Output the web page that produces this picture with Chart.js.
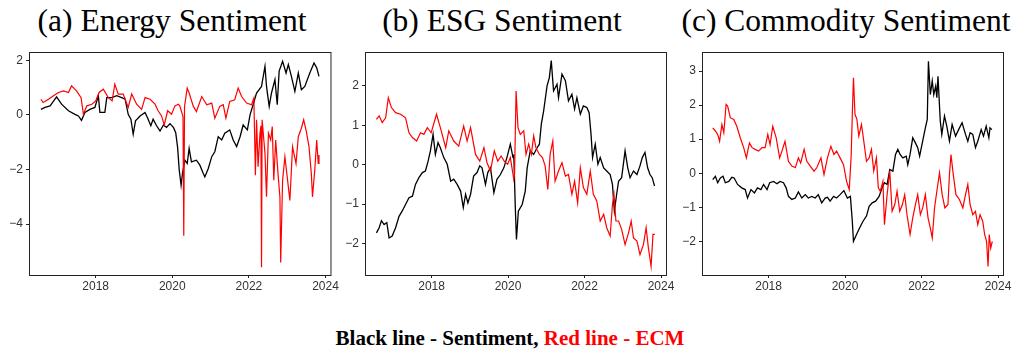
<!DOCTYPE html>
<html>
<head>
<meta charset="utf-8">
<script src="https://cdn.jsdelivr.net/npm/chart.js@4.4.1/dist/chart.umd.min.js"></script>
<style>
  body { margin: 0; background: #fff; }
  #wrap { position: relative; width: 1016px; height: 354px; overflow: hidden; }
  canvas { position: absolute; top: 40px; }
  .title { position: absolute; top: 3px; width: 420px; font-family: "Liberation Serif", "Times New Roman", serif; font-size: 31.5px; color: #000; white-space: nowrap; text-align: center; }
  #legend { position: absolute; left: 0; width: 1020px; top: 326px; text-align: center; font-family: "Liberation Serif", "Times New Roman", serif; font-weight: bold; font-size: 21px; }
</style>
</head>
<body>
<div id="wrap">
  <div class="title" style="left:-38px">(a) Energy Sentiment</div>
  <div class="title" style="left:292px">(b) ESG Sentiment</div>
  <div class="title" style="left:636px">(c) Commodity Sentiment</div>
  <canvas id="c1" width="340" height="260" style="left:0px"></canvas>
  <canvas id="c2" width="340" height="260" style="left:340px"></canvas>
  <canvas id="c3" width="336" height="260" style="left:680px"></canvas>
  <div id="legend">Black line - Sentiment, <span style="color:#ff0000">Red line - ECM</span></div>
</div>
<script>
const yearTicks = [2018, 2020, 2022, 2024];
const X_MIN = 2016.26, X_MAX = 2024.13;

// (a) Energy
const energySentX = [2016.57,2016.68,2016.81,2016.9,2016.98,2017.11,2017.29,2017.46,2017.55,2017.63,2017.72,2017.85,2017.98,2018.07,2018.11,2018.24,2018.29,2018.42,2018.55,2018.68,2018.77,2018.85,2018.92,2018.98,2019.04,2019.16,2019.29,2019.37,2019.44,2019.5,2019.59,2019.68,2019.77,2019.85,2019.94,2020.03,2020.09,2020.14,2020.18,2020.23,2020.27,2020.33,2020.39,2020.44,2020.5,2020.63,2020.72,2020.81,2020.85,2020.94,2021.03,2021.11,2021.2,2021.29,2021.37,2021.5,2021.59,2021.68,2021.77,2021.85,2021.96,2022.03,2022.11,2022.2,2022.33,2022.42,2022.46,2022.53,2022.59,2022.68,2022.74,2022.79,2022.88,2022.97,2023.03,2023.11,2023.2,2023.29,2023.37,2023.46,2023.59,2023.7,2023.77,2023.83];
const energySentY = [0.2,0.27,0.33,0.5,0.66,0.39,0.15,0.02,-0.04,-0.2,0.09,0.2,0.27,0.7,0.09,0.09,0.63,0.63,0.7,0.63,0.57,0.02,-0.16,-0.71,-0.22,-0.04,0.09,-0.16,-0.4,-0.16,-0.4,-0.59,-0.37,-0.46,-0.32,-0.46,-0.65,-1.2,-2.0,-2.58,-2.1,-1.66,-1.78,-1.23,-1.72,-1.66,-1.84,-2.15,-2.27,-1.96,-1.53,-1.35,-0.8,-0.92,-0.67,-0.55,-0.92,-1.16,-0.8,-0.37,-0.55,0,0.37,0.8,1.04,1.78,1.04,0.31,0.8,1.29,0.37,1.6,1.96,1.53,1.84,1.41,0.86,1.53,0.92,1.04,1.53,1.9,1.72,1.41];
const energyEcmX = [2016.57,2016.63,2016.77,2016.9,2017.03,2017.16,2017.29,2017.37,2017.5,2017.62,2017.68,2017.77,2017.9,2018.0,2018.09,2018.2,2018.33,2018.43,2018.5,2018.59,2018.72,2018.85,2018.94,2019.07,2019.2,2019.29,2019.42,2019.55,2019.63,2019.72,2019.79,2019.88,2019.98,2020.07,2020.16,2020.2,2020.28,2020.3,2020.32,2020.39,2020.44,2020.55,2020.63,2020.77,2020.9,2021.03,2021.11,2021.24,2021.33,2021.4,2021.5,2021.63,2021.72,2021.81,2021.94,2022.07,2022.13,2022.17,2022.2,2022.24,2022.29,2022.315,2022.33,2022.345,2022.42,2022.46,2022.51,2022.57,2022.61,2022.65,2022.7,2022.76,2022.81,2022.83,2022.88,2022.94,2023.0,2023.07,2023.14,2023.23,2023.29,2023.37,2023.43,2023.5,2023.57,2023.63,2023.66,2023.72,2023.77,2023.81,2023.83];
const energyEcmY = [0.57,0.45,0.57,0.7,0.82,0.88,0.82,1.06,0.88,0.63,0.02,0.33,0.39,0.51,0.82,0.94,0.63,0.51,1.12,0.76,0.76,0.27,0.76,0.39,0.2,0.63,0.57,0.39,0.15,-0.04,-0.37,0.15,0.02,0.33,0.39,0.31,-0.06,-4.42,0.31,0.98,0.8,0.31,0.12,0.67,0.37,0.43,-0.12,0.31,0.37,-0.12,0.49,0.55,0.98,0.67,0.43,0.37,0.61,-2.21,-0.18,-1.9,-0.67,-0.4,-5.58,-0.18,-1.41,-3.0,-0.67,-0.92,-0.43,-2.39,-0.92,-2.15,-3.0,-5.4,-2.39,-1.53,-2.27,-3.13,-1.17,-1.78,-0.8,-0.49,-0.18,-0.61,-1.17,-2.15,-3.0,-2.02,-0.92,-1.78,-1.47];

// (b) ESG
const esgSentX = [2016.56,2016.63,2016.69,2016.76,2016.83,2016.89,2016.97,2017.06,2017.15,2017.23,2017.32,2017.41,2017.5,2017.58,2017.67,2017.76,2017.84,2017.91,2017.97,2018.04,2018.1,2018.17,2018.23,2018.32,2018.41,2018.5,2018.58,2018.67,2018.76,2018.83,2018.89,2018.95,2019.02,2019.1,2019.19,2019.26,2019.32,2019.41,2019.47,2019.54,2019.63,2019.71,2019.8,2019.89,2019.97,2020.06,2020.13,2020.15,2020.19,2020.22,2020.27,2020.37,2020.45,2020.5,2020.58,2020.67,2020.76,2020.82,2020.87,2020.93,2021.02,2021.08,2021.13,2021.19,2021.28,2021.32,2021.41,2021.5,2021.58,2021.67,2021.74,2021.8,2021.89,2021.97,2022.06,2022.12,2022.17,2022.21,2022.28,2022.35,2022.41,2022.5,2022.58,2022.67,2022.73,2022.78,2022.84,2022.89,2022.97,2023.06,2023.13,2023.19,2023.28,2023.37,2023.45,2023.51,2023.58,2023.65,2023.71,2023.77,2023.83];
const esgSentY = [-1.73,-1.6,-1.42,-1.52,-1.47,-1.86,-1.81,-1.6,-1.31,-1.18,-1.01,-0.84,-0.8,-0.5,-0.33,-0.2,-0.16,0.09,0.35,0.77,0.26,0.56,0.43,0.18,0.01,-0.42,-0.37,-0.5,-0.67,-1.09,-0.75,-0.97,-0.75,-0.29,-0.2,-0.03,-0.08,-0.5,-0.2,-0.08,-0.71,-0.37,-0.25,-0.08,0.18,0.52,0.18,0.26,-1.09,-1.9,-1.18,-1.01,-0.67,-0.08,0.35,0.26,0.43,0.52,1.03,1.36,2.0,2.21,2.64,1.87,2.04,1.7,2.3,2.13,1.62,1.79,1.41,1.7,1.28,1.49,1.45,1.32,0.77,0.18,0.52,0.01,0.18,-0.08,-0.16,-0.25,-0.5,-1.18,-0.75,-0.42,-0.33,0.35,-0.08,-0.33,-0.16,-0.25,-0.03,0.18,0.31,-0.08,-0.25,-0.33,-0.54];
const esgEcmX = [2016.56,2016.63,2016.71,2016.8,2016.87,2016.95,2017.06,2017.19,2017.32,2017.41,2017.5,2017.61,2017.71,2017.8,2017.89,2017.99,2018.13,2018.23,2018.37,2018.45,2018.58,2018.71,2018.84,2018.93,2019.02,2019.15,2019.26,2019.37,2019.45,2019.54,2019.64,2019.73,2019.82,2019.9,2019.99,2020.06,2020.15,2020.17,2020.21,2020.26,2020.32,2020.41,2020.47,2020.54,2020.61,2020.67,2020.73,2020.82,2020.9,2020.97,2021.04,2021.1,2021.17,2021.23,2021.32,2021.41,2021.5,2021.58,2021.67,2021.74,2021.82,2021.89,2021.97,2022.06,2022.15,2022.23,2022.32,2022.41,2022.5,2022.58,2022.67,2022.73,2022.77,2022.82,2022.89,2022.97,2023.06,2023.15,2023.22,2023.28,2023.37,2023.45,2023.54,2023.61,2023.67,2023.74,2023.79,2023.84];
const esgEcmY = [1.15,1.24,1.07,1.19,1.7,1.45,1.32,1.28,1.19,0.81,0.69,0.6,0.81,0.77,0.94,0.81,1.28,0.94,0.43,0.86,0.6,0.47,0.98,0.6,0.94,0.26,0.09,0.43,0.05,-0.16,0.35,0.09,0.22,0.09,0.01,0.18,-0.37,-0.25,1.87,0.94,0.77,0.86,0.26,0.52,0.26,0.73,0.43,0.26,0.18,-0.03,-0.63,0.26,0.6,-0.42,-0.16,0.05,-0.29,-0.25,-0.75,-0.42,-0.97,-0.08,-0.58,-0.75,-0.16,-0.75,-0.92,-1.43,-1.26,-1.6,-1.81,-1.01,-0.75,-1.43,-1.43,-1.64,-2.03,-1.73,-1.43,-1.86,-1.94,-2.28,-2.03,-1.6,-2.11,-2.58,-1.77,-1.77];

// (c) Commodity
const commSentX = [2016.54,2016.61,2016.67,2016.74,2016.81,2016.87,2016.96,2017.04,2017.1,2017.19,2017.3,2017.39,2017.45,2017.54,2017.63,2017.71,2017.8,2017.87,2017.96,2018.03,2018.13,2018.22,2018.3,2018.39,2018.46,2018.52,2018.61,2018.7,2018.78,2018.87,2018.96,2019.04,2019.13,2019.22,2019.3,2019.39,2019.48,2019.54,2019.61,2019.7,2019.78,2019.87,2019.97,2020.06,2020.14,2020.19,2020.22,2020.3,2020.38,2020.47,2020.56,2020.63,2020.71,2020.8,2020.89,2020.97,2021.03,2021.1,2021.17,2021.25,2021.32,2021.38,2021.44,2021.51,2021.6,2021.64,2021.7,2021.77,2021.84,2021.9,2021.95,2022.02,2022.1,2022.15,2022.18,2022.23,2022.28,2022.32,2022.37,2022.4,2022.43,2022.49,2022.53,2022.6,2022.66,2022.73,2022.8,2022.89,2022.97,2023.06,2023.15,2023.21,2023.27,2023.34,2023.41,2023.47,2023.56,2023.62,2023.69,2023.76,2023.79,2023.84];
const commSentY = [-0.19,-0.09,-0.28,-0.14,-0.09,-0.28,-0.24,-0.12,-0.14,-0.33,-0.43,-0.48,-0.73,-0.48,-0.58,-0.43,-0.48,-0.33,-0.48,-0.28,-0.24,-0.31,-0.24,-0.28,-0.43,-0.68,-0.77,-0.73,-0.55,-0.73,-0.63,-0.73,-0.68,-0.73,-0.63,-0.87,-0.73,-0.71,-0.82,-0.68,-0.73,-0.63,-0.51,-0.73,-0.68,-1.41,-2.0,-1.8,-1.61,-1.41,-1.26,-0.97,-0.87,-0.82,-0.68,-0.43,-0.28,-0.33,0.11,0.06,0.55,0.7,0.55,0.45,0.5,0.25,0.55,1.04,0.89,0.75,0.5,0.89,1.33,1.58,3.29,2.31,2.71,2.31,2.56,2.22,2.85,1.53,1.14,1.68,1.38,0.94,1.43,1.09,1.28,1.48,1.14,0.94,1.19,1.14,0.75,0.94,1.28,1.09,1.38,1.04,1.33,1.28];
const commEcmX = [2016.54,2016.61,2016.67,2016.72,2016.78,2016.83,2016.89,2016.93,2017.0,2017.09,2017.17,2017.26,2017.35,2017.42,2017.5,2017.57,2017.65,2017.74,2017.83,2017.91,2017.98,2018.04,2018.11,2018.2,2018.29,2018.35,2018.43,2018.52,2018.61,2018.7,2018.78,2018.84,2018.93,2019.0,2019.09,2019.19,2019.26,2019.37,2019.45,2019.54,2019.63,2019.71,2019.78,2019.87,2019.96,2020.04,2020.11,2020.16,2020.19,2020.22,2020.26,2020.31,2020.36,2020.43,2020.49,2020.56,2020.63,2020.69,2020.75,2020.82,2020.87,2020.92,2020.99,2021.03,2021.1,2021.17,2021.23,2021.3,2021.36,2021.43,2021.5,2021.56,2021.62,2021.7,2021.77,2021.84,2021.9,2021.97,2022.03,2022.1,2022.17,2022.23,2022.28,2022.34,2022.4,2022.47,2022.54,2022.61,2022.69,2022.73,2022.77,2022.83,2022.9,2022.99,2023.08,2023.15,2023.21,2023.27,2023.34,2023.41,2023.47,2023.53,2023.6,2023.65,2023.7,2023.74,2023.77,2023.81,2023.85];
const commEcmY = [1.33,1.24,1.14,0.94,1.43,1.19,2.02,1.97,1.63,1.58,1.38,1.04,0.75,0.45,0.89,0.75,0.7,0.65,0.75,0.75,1.14,0.84,1.38,1.04,0.45,0.65,0.94,0.35,0.21,0.16,0.45,0.3,0.7,0.35,0.21,0.06,0.16,0.45,-0.04,0.45,0.79,0.55,0.65,0.45,0.25,-0.24,-0.48,0.5,1.73,2.8,1.73,1.58,1.09,1.43,0.94,0.35,0.45,0.7,0.06,0.45,-0.43,-0.53,-0.24,-1.51,-0.63,0.06,-1.12,-0.92,-0.53,-1.12,-0.92,-0.63,-1.22,-1.8,-1.31,-0.92,-0.63,-1.22,-1.02,-0.63,-1.31,-1.61,-1.9,-1.02,-0.53,0.01,-0.63,-1.02,-0.92,-0.04,0.55,-0.04,-0.63,-0.77,-1.02,-0.63,-0.33,-0.92,-1.22,-1.12,-1.51,-1.22,-1.41,-1.8,-2.0,-2.74,-1.8,-2.2,-2.0];

const panels = [
  { id: "c1", sx: energySentX, sy: energySentY, ex: energyEcmX, ey: energyEcmY, yMin: -5.86, yMax: 2.3, yTicks: [-4, -2, 0, 2], yWidth: 29, padRight: 9 },
  { id: "c2", sx: esgSentX, sy: esgSentY, ex: esgEcmX, ey: esgEcmY, yMin: -2.8, yMax: 2.86, yTicks: [-2, -1, 0, 1, 2], yWidth: 25, padRight: 14 },
  { id: "c3", sx: commSentX, sy: commSentY, ex: commEcmX, ey: commEcmY, yMin: -2.99, yMax: 3.56, yTicks: [-2, -1, 0, 1, 2, 3], yWidth: 22, padRight: 13 }
];

const boxPlugin = {
  id: "box",
  afterDraw(chart) {
    const { ctx, chartArea: a } = chart;
    ctx.save();
    ctx.strokeStyle = "#222";
    ctx.lineWidth = 1;
    ctx.strokeRect(a.left + 0.5, a.top + 0.5, a.right - a.left, a.bottom - a.top);
    ctx.restore();
  }
};

const tickFont = { family: "'Liberation Sans', Arial, sans-serif", size: 12 };

function pairs(xs, ys) {
  return xs.map((x, i) => ({ x: x, y: ys[i] }));
}

panels.forEach(p => {
  new Chart(document.getElementById(p.id), {
    type: "line",
    data: {
      datasets: [
        { label: "ECM", data: pairs(p.ex, p.ey), borderColor: "#ff0000", borderWidth: 1.2, pointRadius: 0, tension: 0 },
        { label: "Sentiment", data: pairs(p.sx, p.sy), borderColor: "#000000", borderWidth: 1.3, pointRadius: 0, tension: 0 }
      ]
    },
    options: {
      responsive: false,
      animation: false,
      layout: { padding: { top: 12, right: p.padRight, left: 0, bottom: 0 } },
      plugins: { legend: { display: false }, tooltip: { enabled: false } },
      scales: {
        x: {
          type: "linear", min: X_MIN, max: X_MAX,
          afterBuildTicks: ax => { ax.ticks = yearTicks.map(v => ({ value: v })); },
          afterFit: ax => { ax.height = 25; },
          grid: { drawOnChartArea: false, drawTicks: true, tickLength: 3, color: "#222" },
          border: { display: false },
          ticks: { font: tickFont, color: "#333", padding: 1, maxRotation: 0, callback: v => String(v) }
        },
        y: {
          min: p.yMin, max: p.yMax,
          afterBuildTicks: ax => { ax.ticks = p.yTicks.map(v => ({ value: v })); },
          afterFit: ax => { ax.width = p.yWidth; },
          grid: { drawOnChartArea: false, drawTicks: true, tickLength: 3, color: "#222" },
          border: { display: false },
          ticks: { font: tickFont, color: "#333", padding: 3, callback: v => v < 0 ? "\u2212" + Math.abs(v) : String(v) }
        }
      }
    },
    plugins: [boxPlugin]
  });
});
</script>
</body>
</html>
